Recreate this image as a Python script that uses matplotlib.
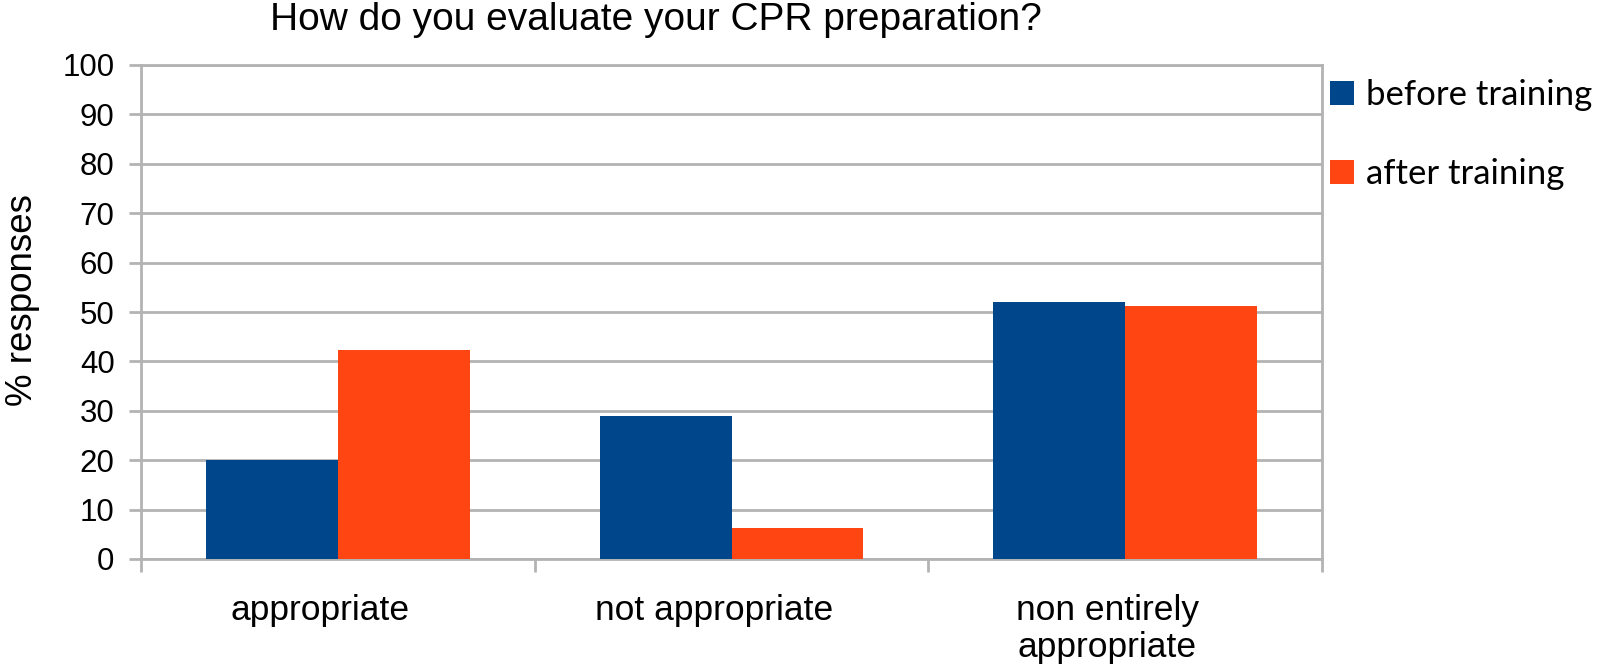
import numpy as np
import matplotlib
matplotlib.use("Agg")
from matplotlib import pyplot as plt

categories = ["appropriate", "not appropriate", "non entirely\nappropriate"]
before_training = [20.0, 29.0, 52.1]
after_training = [42.4, 6.3, 51.3]
series_names = ["before training", "after training"]
y_ticks = list(range(0, 101, 10))

blue = "#00468b"
orange = "#ff4511"
grey = "#b3b3b3"

plt.rcParams['font.family'] = ['Liberation Sans', 'DejaVu Sans']

fig = plt.figure(figsize=(16, 6.72), dpi=100)
ax = fig.add_axes([141 / 1600, 1 - 559 / 672, (1322 - 141) / 1600, (559 - 65) / 672])

x = np.arange(len(categories))
w = 0.335
ax.bar(x - w / 2, before_training, width=w, color=blue, zorder=3, label=series_names[0])
ax.bar(x + w / 2, after_training, width=w, color=orange, zorder=3, label=series_names[1])

ax.set_xlim(-0.5, len(categories) - 0.5)
ax.set_ylim(0, 100)
ax.set_yticks(y_ticks)
ax.tick_params(axis='y', labelsize=22.5, length=9, width=2, color=grey, pad=10)
ax.yaxis.grid(True, color=grey, linewidth=2, zorder=0)

# category separators as ticks, labels in the middle
ax.set_xticks(np.arange(len(categories) + 1) - 0.5)
ax.set_xticklabels([])
ax.tick_params(axis='x', length=9, width=2, color=grey)
tr = ax.get_xaxis_transform()
for i, c in enumerate(categories):
    ax.text(i - 0.045, -0.071, c, ha='center', va='top', fontsize=25.5,
            transform=tr, linespacing=1.15)

for s in ax.spines.values():
    s.set_color(grey)
    s.set_linewidth(2)

fig.text(23 / 1600, 1 - 300 / 672, "% responses", rotation=90,
         ha='center', va='center', fontsize=26.5)

fig.text(656 / 1600, 1 - 20 / 672, "How do you evaluate your CPR preparation?",
         ha='center', va='center', fontsize=28)

leg = ax.legend(loc='upper left', bbox_to_anchor=(0.995, 1.0), frameon=False,
                prop={'family': 'Lato', 'size': 25}, handlelength=0.69, handleheight=0.69,
                handletextpad=0.35, labelspacing=1.36, borderaxespad=0, borderpad=0.4)

fig.savefig("out.png", dpi=100)
